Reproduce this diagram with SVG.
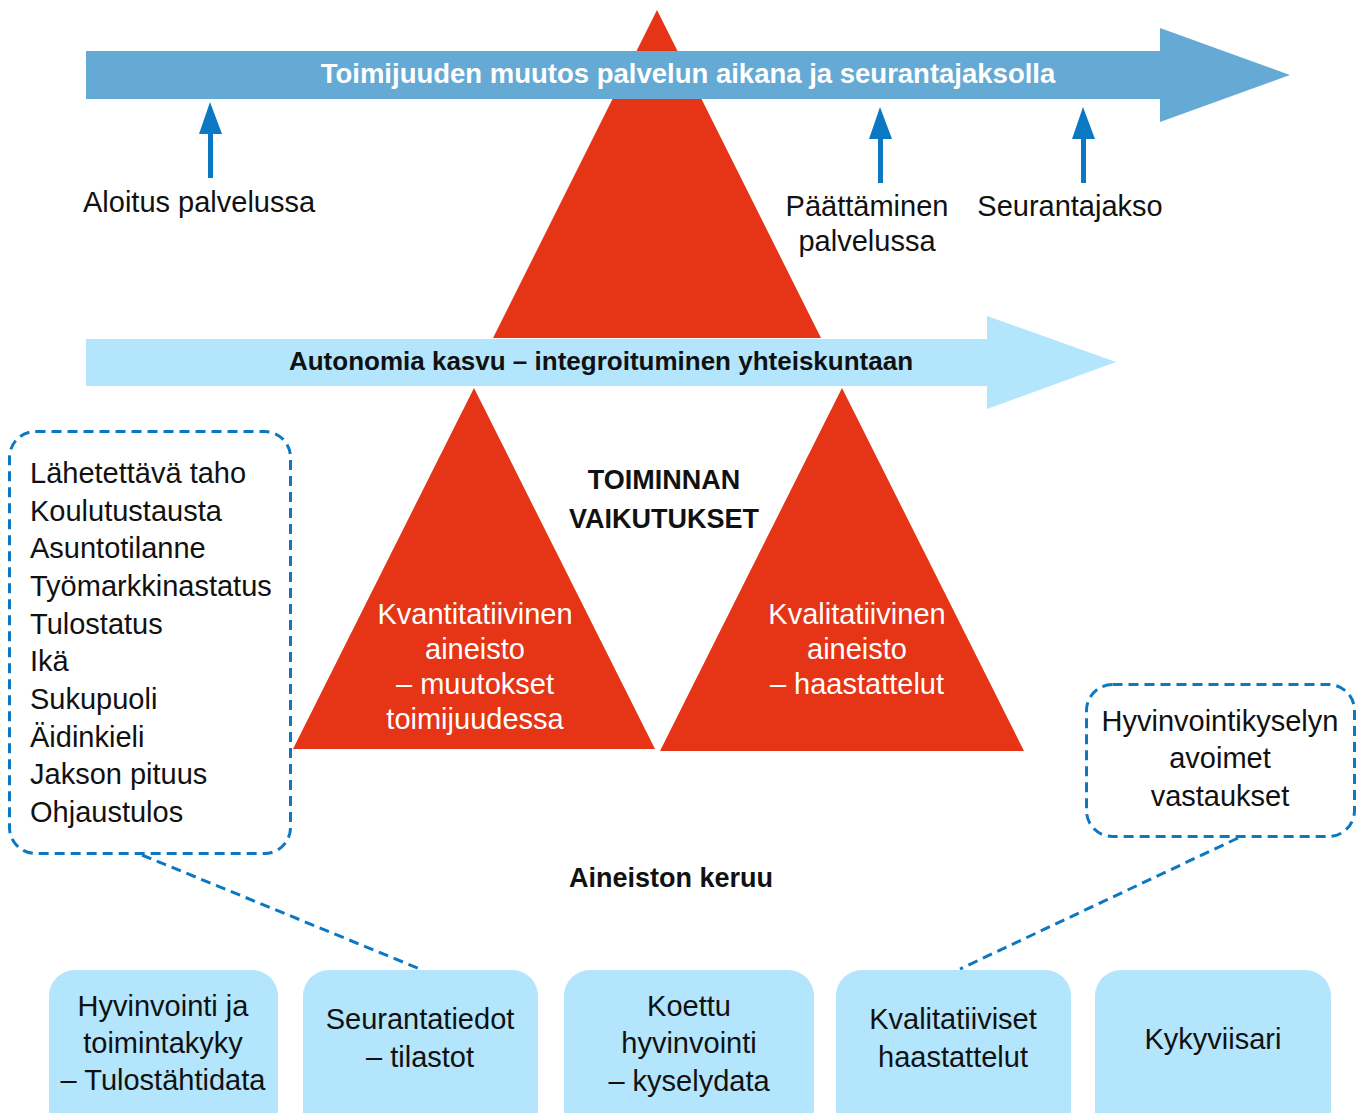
<svg xmlns="http://www.w3.org/2000/svg" width="1360" height="1113" viewBox="0 0 1360 1113">
<defs>
<style>
.t{font-family:"Liberation Sans",Arial,sans-serif;font-size:29px;fill:#111;}
.b{font-family:"Liberation Sans",Arial,sans-serif;font-size:27px;font-weight:bold;fill:#111;}
.w{fill:#fff;}
.c{text-anchor:middle;}
.red{fill:#E53416;}
.lb{fill:#B3E5FC;}
.dash{fill:none;stroke:#0A78C2;stroke-width:3;stroke-dasharray:10 6;}
.mark{fill:#0A78C2;}
</style>
</defs>
<rect width="1360" height="1113" fill="#fff"/>
<g id="big-triangle"><polygon class="red" points="657,10 821,338 493,338"/></g>
<g id="timeline-arrow">
<polygon fill="#64AAD4" points="86,51 1160,51 1160,28 1290,75 1160,122 1160,99 86,99"/>
<text class="b w c" x="688" y="83" style="font-size:27.5px">Toimijuuden muutos palvelun aikana ja seurantajaksolla</text>
</g>
<g id="autonomy-arrow">
<polygon class="lb" points="86,339 987,339 987,316 1116,362 987,409 987,386 86,386"/>
<text class="b c" x="601" y="370" style="font-size:26px">Autonomia kasvu – integroituminen yhteiskuntaan</text>
</g>
<g id="marker-aloitus">
<rect class="mark" x="208" y="130" width="5" height="48"/>
<polygon class="mark" points="199,134 222,134 210,102"/>
<text class="t" x="83" y="212">Aloitus palvelussa</text>
</g>
<g id="marker-paattaminen">
<rect class="mark" x="878" y="135" width="5" height="48"/>
<polygon class="mark" points="869,139 892,139 880,107"/>
<text class="t c" x="867" y="216">Päättäminen</text>
<text class="t c" x="867" y="251">palvelussa</text>
</g>
<g id="marker-seuranta">
<rect class="mark" x="1081" y="135" width="5" height="48"/>
<polygon class="mark" points="1072,139 1095,139 1083,107"/>
<text class="t c" x="1070" y="216">Seurantajakso</text>
</g>
<g id="toiminnan-vaikutukset">
<text class="b c" x="664" y="489">TOIMINNAN</text>
<text class="b c" x="664" y="528">VAIKUTUKSET</text>
</g>
<g id="triangle-kvantitatiivinen">
<polygon class="red" points="474,388 655,749 293,749"/>
<text class="t w c" x="475" y="624">Kvantitatiivinen</text>
<text class="t w c" x="475" y="659">aineisto</text>
<text class="t w c" x="475" y="694">– muutokset</text>
<text class="t w c" x="475" y="729">toimijuudessa</text>
</g>
<g id="triangle-kvalitatiivinen">
<polygon class="red" points="842,388 1024,751 660,751"/>
<text class="t w c" x="857" y="624">Kvalitatiivinen</text>
<text class="t w c" x="857" y="659">aineisto</text>
<text class="t w c" x="857" y="694">– haastattelut</text>
</g>
<g id="background-box">
<rect class="dash" x="9.5" y="431.5" width="281" height="422" rx="26"/>
<text class="t" x="30" y="483">Lähetettävä taho</text>
<text class="t" x="30" y="521">Koulutustausta</text>
<text class="t" x="30" y="558">Asuntotilanne</text>
<text class="t" x="30" y="596">Työmarkkinastatus</text>
<text class="t" x="30" y="634">Tulostatus</text>
<text class="t" x="30" y="671">Ikä</text>
<text class="t" x="30" y="709">Sukupuoli</text>
<text class="t" x="30" y="747">Äidinkieli</text>
<text class="t" x="30" y="784">Jakson pituus</text>
<text class="t" x="30" y="822">Ohjaustulos</text>
</g>
<g id="open-answers-box">
<rect class="dash" x="1086.5" y="684.5" width="268" height="152" rx="26"/>
<text class="t c" x="1220" y="731">Hyvinvointikyselyn</text>
<text class="t c" x="1220" y="768">avoimet</text>
<text class="t c" x="1220" y="806">vastaukset</text>
</g>
<g id="connectors">
<line class="dash" x1="142" y1="855" x2="420" y2="969"/>
<line class="dash" x1="1238" y1="838" x2="960" y2="969"/>
</g>
<g id="aineiston-keruu"><text class="b c" x="671" y="887">Aineiston keruu</text></g>
<g id="box-hyvinvointi">
<rect class="lb" x="49" y="970" width="229" height="170" rx="26"/>
<text class="t c" x="163" y="1016">Hyvinvointi ja</text>
<text class="t c" x="163" y="1053">toimintakyky</text>
<text class="t c" x="163" y="1090">– Tulostähtidata</text>
</g>
<g id="box-seurantatiedot">
<rect class="lb" x="303" y="970" width="235" height="170" rx="26"/>
<text class="t c" x="420" y="1029">Seurantatiedot</text>
<text class="t c" x="420" y="1067">– tilastot</text>
</g>
<g id="box-koettu">
<rect class="lb" x="564" y="970" width="250" height="170" rx="26"/>
<text class="t c" x="689" y="1016">Koettu</text>
<text class="t c" x="689" y="1053">hyvinvointi</text>
<text class="t c" x="689" y="1091">– kyselydata</text>
</g>
<g id="box-kvalitatiiviset">
<rect class="lb" x="836" y="970" width="235" height="170" rx="26"/>
<text class="t c" x="953" y="1029">Kvalitatiiviset</text>
<text class="t c" x="953" y="1067">haastattelut</text>
</g>
<g id="box-kykyviisari">
<rect class="lb" x="1095" y="970" width="236" height="170" rx="26"/>
<text class="t c" x="1213" y="1049">Kykyviisari</text>
</g>
</svg>
